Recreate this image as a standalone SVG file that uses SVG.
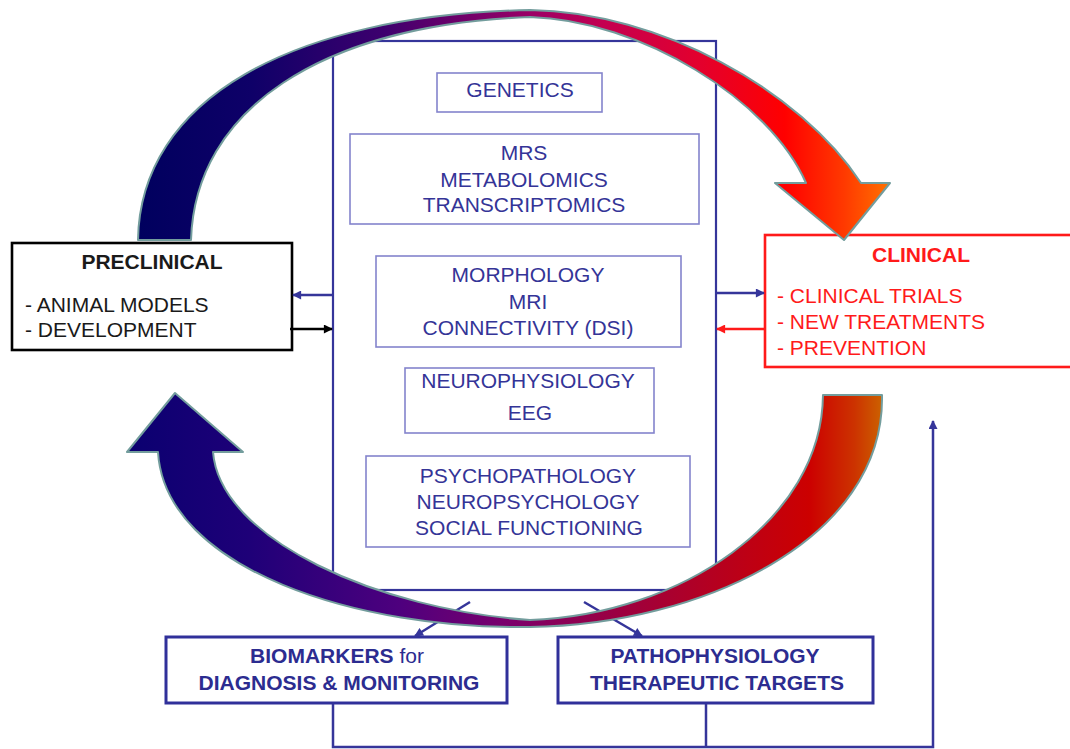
<svg xmlns="http://www.w3.org/2000/svg" width="1070" height="749" viewBox="0 0 1070 749">
<defs>
<style>
text{font-family:"Liberation Sans",Arial,sans-serif;font-size:21px}
.c{text-anchor:middle}
.blue{fill:#343497}
.b{font-weight:bold}
.inner{fill:none;stroke:#8484cc;stroke-width:1.6}
.main{fill:#fff;stroke:#35359a;stroke-width:2.2}
.bot{fill:#fff;stroke:#30309a;stroke-width:3}
.ln{fill:none;stroke:#35359a;stroke-width:2.5}
.arc{stroke:#739d9d;stroke-width:2;stroke-linejoin:round}
</style>
<linearGradient id="gTop" gradientUnits="userSpaceOnUse" x1="138" y1="0" x2="890" y2="0">
<stop offset="0" stop-color="#00005e"/>
<stop offset="0.15" stop-color="#0e0068"/>
<stop offset="0.33" stop-color="#3e006e"/>
<stop offset="0.52" stop-color="#9a0066"/>
<stop offset="0.62" stop-color="#c40050"/>
<stop offset="0.75" stop-color="#e4002c"/>
<stop offset="0.86" stop-color="#ff0000"/>
<stop offset="0.94" stop-color="#ff3a00"/>
<stop offset="1" stop-color="#ff7200"/>
</linearGradient>
<linearGradient id="gBot" gradientUnits="userSpaceOnUse" x1="127" y1="0" x2="885" y2="0">
<stop offset="0" stop-color="#0a0070"/>
<stop offset="0.16" stop-color="#1e0078"/>
<stop offset="0.36" stop-color="#4e007e"/>
<stop offset="0.5" stop-color="#7a006c"/>
<stop offset="0.65" stop-color="#9c0040"/>
<stop offset="0.82" stop-color="#be0014"/>
<stop offset="0.9" stop-color="#cc0000"/>
<stop offset="0.96" stop-color="#cc3300"/>
<stop offset="1" stop-color="#cc6600"/>
</linearGradient>
<marker id="mBlue" viewBox="0 0 10 10" refX="9" refY="5" markerWidth="4" markerHeight="3.6" orient="auto" markerUnits="strokeWidth"><path d="M0,0 L10,5 L0,10 z" fill="#35359a"/></marker>
<marker id="mBlack" viewBox="0 0 10 10" refX="9" refY="5" markerWidth="4" markerHeight="3.6" orient="auto" markerUnits="strokeWidth"><path d="M0,0 L10,5 L0,10 z" fill="#000"/></marker>
<marker id="mRed" viewBox="0 0 10 10" refX="9" refY="5" markerWidth="4" markerHeight="3.6" orient="auto" markerUnits="strokeWidth"><path d="M0,0 L10,5 L0,10 z" fill="#ff1a1a"/></marker>
</defs>
<rect width="1070" height="749" fill="#fff"/>

<g id="central">
<rect class="main" x="333" y="41" width="383" height="549"/>
<g id="genetics">
<rect class="inner" x="437" y="73" width="165" height="39"/>
<text class="c blue" x="520" y="97">GENETICS</text>
</g>
<g id="mrs">
<rect class="inner" x="350" y="134" width="349" height="90"/>
<text class="c blue" x="524" y="160">MRS</text>
<text class="c blue" x="524" y="187">METABOLOMICS</text>
<text class="c blue" x="524" y="212">TRANSCRIPTOMICS</text>
</g>
<g id="morphology">
<rect class="inner" x="376" y="256" width="305" height="91"/>
<text class="c blue" x="528" y="282">MORPHOLOGY</text>
<text class="c blue" x="528" y="309">MRI</text>
<text class="c blue" x="528" y="335">CONNECTIVITY (DSI)</text>
</g>
<g id="neurophysiology">
<rect class="inner" x="405" y="368" width="249" height="65"/>
<text class="c blue" x="528" y="388">NEUROPHYSIOLOGY</text>
<text class="c blue" x="530" y="420">EEG</text>
</g>
<g id="psychopathology">
<rect class="inner" x="366" y="456" width="324" height="91"/>
<text class="c blue" x="528" y="483">PSYCHOPATHOLOGY</text>
<text class="c blue" x="528" y="509">NEUROPSYCHOLOGY</text>
<text class="c blue" x="529" y="535">SOCIAL FUNCTIONING</text>
</g>
</g>

<g id="preclinical">
<rect x="12" y="243" width="280" height="107" fill="#fff" stroke="#000" stroke-width="2.6"/>
<text class="c b" x="152" y="269" fill="#1a1a1a">PRECLINICAL</text>
<text x="25" y="312" fill="#1a1a1a">- ANIMAL MODELS</text>
<text x="25" y="337" fill="#1a1a1a">- DEVELOPMENT</text>
</g>

<g id="clinical">
<rect x="765" y="235" width="320" height="132" fill="#fff" stroke="#ff1a1a" stroke-width="2.6"/>
<text class="c b" x="921" y="262" fill="#ff1a1a">CLINICAL</text>
<text x="777" y="303" fill="#ff1a1a">- CLINICAL TRIALS</text>
<text x="777" y="329" fill="#ff1a1a">- NEW TREATMENTS</text>
<text x="777" y="355" fill="#ff1a1a">- PREVENTION</text>
</g>

<g id="biomarkers">
<rect class="bot" x="166" y="637" width="341" height="66"/>
<text class="c b" x="337" y="663" fill="#2c2c90">BIOMARKERS <tspan font-weight="normal">for</tspan></text>
<text class="c b" x="339" y="690" fill="#2c2c90">DIAGNOSIS &amp; MONITORING</text>
</g>

<g id="pathophysiology">
<rect class="bot" x="558" y="637" width="315" height="66"/>
<text class="c b" x="715" y="663" fill="#2c2c90">PATHOPHYSIOLOGY</text>
<text class="c b" x="717" y="690" fill="#2c2c90">THERAPEUTIC TARGETS</text>
</g>

<g id="connectors">
<line class="ln" x1="333" y1="295" x2="293" y2="295" marker-end="url(#mBlue)"/>
<line x1="290" y1="329" x2="332" y2="329" stroke="#000" stroke-width="2.5" marker-end="url(#mBlack)"/>
<line class="ln" x1="716" y1="293" x2="764" y2="293" marker-end="url(#mBlue)"/>
<line x1="765" y1="329" x2="717" y2="329" stroke="#ff1a1a" stroke-width="2.5" marker-end="url(#mRed)"/>
<line class="ln" x1="470" y1="602" x2="415" y2="636" marker-end="url(#mBlue)"/>
<line class="ln" x1="584" y1="602" x2="642" y2="636" marker-end="url(#mBlue)"/>
<polyline class="ln" points="333,704 333,747 933,747 933,421" marker-end="url(#mBlue)"/>
<line class="ln" x1="706" y1="704" x2="706" y2="747"/>
</g>

<g id="cycle-arrows">
<path id="arc-top" class="arc" fill="url(#gTop)" d="M138,240 C140,100 290,15 530,10 C660,12 800,90 861,183 L890,183 L844,240 L775,183 L806,183 C770,100 640,20 530,17 C320,25 195,110 191,240 Z"/>
<path id="arc-bottom" class="arc" fill="url(#gBot)" d="M158,452 C165,570 360,630 530,627 C700,625 885,540 882,395 L823,395 C822,520 680,615 530,620 C380,610 220,540 213,452 L243,452 L175,393 L127,452 Z"/>
</g>
</svg>
